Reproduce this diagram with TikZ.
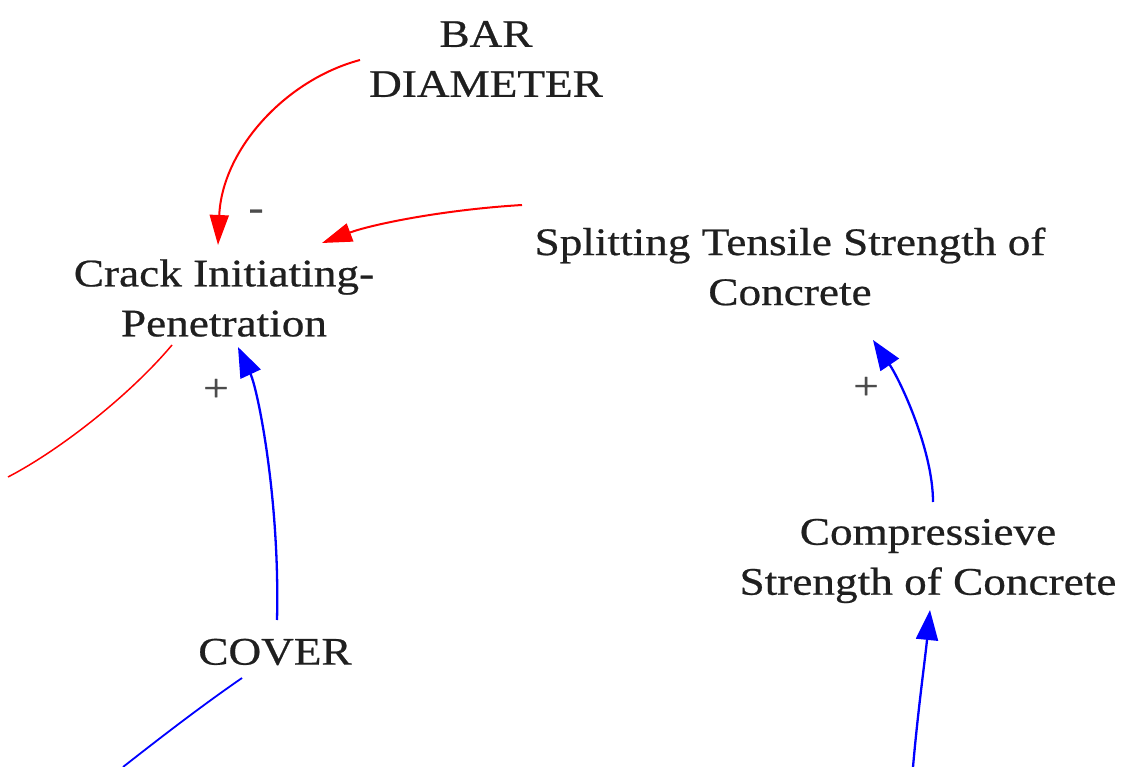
\documentclass[tikz,border=0pt]{standalone}
\usepackage{fontspec}
\setmainfont{Liberation Serif}[FakeStretch=1.16,FakeBold=0.6]
\usetikzlibrary{arrows.meta,calc}
\begin{document}
\begin{tikzpicture}[x=1pt,y=-1pt,
  var/.style={font=\fontsize{39}{50}\selectfont, align=center, inner sep=0pt, text=black!88},
  sign/.style={font=\fontsize{39}{50}\selectfont, inner sep=0pt, text=black!70},
  redarr/.style={draw=red, line width=2pt, -{Triangle[length=30pt,width=19pt]}},
  bluearr/.style={draw=blue, line width=2.3pt, -{Triangle[length=30pt,width=22pt]}},
  redline/.style={draw=red, line width=1.5pt},
  blueline/.style={draw=blue, line width=1.8pt}]
\useasboundingbox[fill=white] (0,0) rectangle (1128,767);

\node[var] (bar) at (486,59) {BAR\\DIAMETER};
\node[var] (crack) at (224,298) {Crack Initiating-\\Penetration};
\node[var] (split) at (790,266.5) {Splitting Tensile Strength of\\Concrete};
\node[var] (comp) at (928,561) {Compressieve\\Strength of Concrete};
\node[var] (cover) at (275,652) {COVER};

\node[sign] (minus1) at (256,215) {-};
\node[sign] (plus1) at (216,390) {+};
\node[sign] (plus2) at (866,388) {+};

\coordinate (redout) at (8,477);
\coordinate (blueout) at (123,767);
\coordinate (bluein) at (913,767);

% BAR DIAMETER -> Crack
\draw[redarr] ([shift={(-126,1)}]bar.center) .. controls (285,80) and (222,150) .. ([shift={(-6,-53)}]crack.center);
% Splitting -> Crack
\draw[redarr] ([shift={(-268,-61.5)}]split.center) .. controls (440,210) and (370,225) .. ([shift={(98,-55)}]crack.center);
% Crack -> off picture
\draw[redline] ([shift={(-52,47)}]crack.center) .. controls (130,395) and (60,450) .. (redout);
% COVER -> Crack
\draw[bluearr] ([shift={(2,-32)}]cover.center) .. controls (280,500) and (258,390) .. ([shift={(14,49)}]crack.center);
% COVER -> off picture
\draw[blueline] ([shift={(-33,26)}]cover.center) .. controls (200,707) and (160,738) .. (blueout);
% Compressive -> Splitting
\draw[bluearr] ([shift={(5,-59)}]comp.center) .. controls (933,450) and (900,380) .. ([shift={(83,73.5)}]split.center);
% off picture -> Compressive
\draw[bluearr] (bluein) .. controls (918,710) and (925,660) .. ([shift={(2,49)}]comp.center);
\end{tikzpicture}
\end{document}
